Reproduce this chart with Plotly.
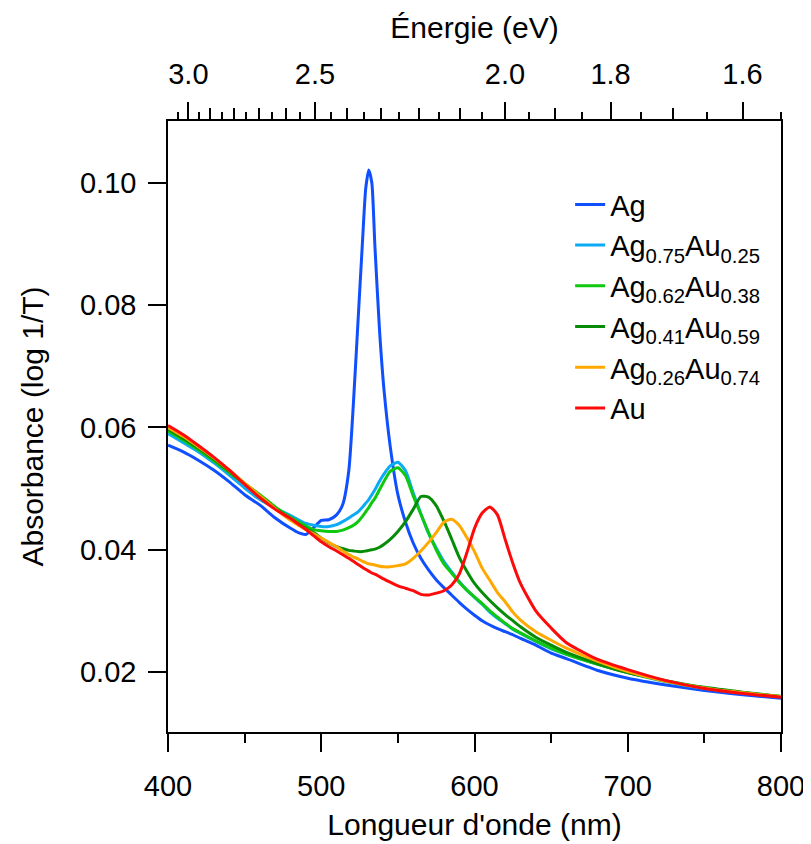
import plotly.graph_objects as go

wavelength_nm = [400, 410, 420, 430, 440, 450, 460, 470, 480, 485, 490, 495, 500, 505, 510,
                 514, 518, 521, 524, 527, 529, 531, 533, 535, 538, 541, 545, 550, 555, 560,
                 565, 570, 575, 580, 585, 590, 595, 600, 605, 610, 615, 620, 625, 630, 640,
                 650, 660, 680, 700, 725, 750, 775, 800]

abs_ag = [0.0571, 0.0560, 0.0546, 0.0530, 0.0511, 0.0490, 0.0473, 0.0452, 0.0435, 0.0428, 0.0425, 0.0436, 0.0448, 0.0449, 0.0457,
          0.0474, 0.0530, 0.0640, 0.0774, 0.0908, 0.0990, 0.1021, 0.1000, 0.0897, 0.0760, 0.0660, 0.0569, 0.0490, 0.0445, 0.0411,
          0.0386, 0.0367, 0.0351, 0.0338, 0.0326, 0.0314, 0.0303, 0.0293, 0.0284, 0.0277, 0.0271, 0.0266, 0.0261, 0.0255, 0.0244,
          0.0231, 0.0222, 0.0203, 0.0190, 0.0179, 0.0170, 0.0163, 0.0157]

abs_ag75 = [0.0590, 0.0575, 0.0560, 0.0542, 0.0522, 0.0501, 0.0482, 0.0468, 0.0456, 0.0449, 0.0443, 0.0440, 0.0438, 0.0438, 0.0441,
            0.0446, 0.0452, 0.0457, 0.0462, 0.0470, 0.0476, 0.0482, 0.0490, 0.0498, 0.0512, 0.0524, 0.0537, 0.0543, 0.0529, 0.0493,
            0.0459, 0.0427, 0.0403, 0.0381, 0.0364, 0.0348, 0.0334, 0.0322, 0.0311, 0.0298, 0.0288, 0.0279, 0.0270, 0.0263, 0.0250,
            0.0238, 0.0229, 0.0213, 0.0199, 0.0184, 0.0173, 0.0166, 0.0160]

abs_ag62 = [0.0594, 0.0579, 0.0563, 0.0545, 0.0526, 0.0508, 0.0490, 0.0470, 0.0453, 0.0446, 0.0439, 0.0433, 0.0431, 0.0430, 0.0430,
            0.0432, 0.0436, 0.0440, 0.0446, 0.0455, 0.0462, 0.0469, 0.0477, 0.0484, 0.0498, 0.0512, 0.0528, 0.0534, 0.0521, 0.0488,
            0.0458, 0.0428, 0.0400, 0.0377, 0.0362, 0.0347, 0.0334, 0.0323, 0.0312, 0.0300, 0.0290, 0.0280, 0.0271, 0.0264, 0.0251,
            0.0239, 0.0229, 0.0213, 0.0199, 0.0185, 0.0174, 0.0166, 0.0160]

abs_ag41 = [0.0597, 0.0582, 0.0566, 0.0548, 0.0528, 0.0508, 0.0488, 0.0468, 0.0450, 0.0442, 0.0435, 0.0428, 0.0419, 0.0411, 0.0405,
            0.0402, 0.0399, 0.0398, 0.0397, 0.0397, 0.0398, 0.0399, 0.0400, 0.0401, 0.0404, 0.0409, 0.0417, 0.0430, 0.0446, 0.0466,
            0.0487, 0.0486, 0.0472, 0.0447, 0.0418, 0.0388, 0.0365, 0.0345, 0.0330, 0.0317, 0.0305, 0.0294, 0.0284, 0.0274, 0.0257,
            0.0244, 0.0232, 0.0214, 0.0199, 0.0186, 0.0175, 0.0167, 0.0160]

abs_ag26 = [0.0600, 0.0585, 0.0568, 0.0550, 0.0530, 0.0509, 0.0488, 0.0467, 0.0448, 0.0440, 0.0433, 0.0426, 0.0419, 0.0412, 0.0405,
            0.0398, 0.0392, 0.0388, 0.0385, 0.0381, 0.0379, 0.0377, 0.0376, 0.0375, 0.0373, 0.0372, 0.0372, 0.0374, 0.0377, 0.0386,
            0.0398, 0.0412, 0.0428, 0.0445, 0.0450, 0.0440, 0.0420, 0.0397, 0.0370, 0.0350, 0.0330, 0.0315, 0.0298, 0.0285, 0.0266,
            0.0252, 0.0239, 0.0218, 0.0201, 0.0185, 0.0174, 0.0166, 0.0160]

abs_au = [0.0603, 0.0588, 0.0570, 0.0551, 0.0530, 0.0507, 0.0485, 0.0466, 0.0451, 0.0442, 0.0433, 0.0423, 0.0413, 0.0405, 0.0398,
          0.0392, 0.0386, 0.0381, 0.0376, 0.0371, 0.0368, 0.0365, 0.0362, 0.0360, 0.0356, 0.0352, 0.0347, 0.0341, 0.0337, 0.0333,
          0.0327, 0.0326, 0.0329, 0.0333, 0.0342, 0.0360, 0.0395, 0.0435, 0.0460, 0.0470, 0.0457, 0.0417, 0.0378, 0.0345, 0.0300,
          0.0272, 0.0248, 0.0221, 0.0204, 0.0186, 0.0173, 0.0165, 0.0159]

series_names = ["Ag",
                "Ag<sub>0.75</sub>Au<sub>0.25</sub>",
                "Ag<sub>0.62</sub>Au<sub>0.38</sub>",
                "Ag<sub>0.41</sub>Au<sub>0.59</sub>",
                "Ag<sub>0.26</sub>Au<sub>0.74</sub>",
                "Au"]
series_colors = ["#0F4FFF", "#0AAAF5", "#10C810", "#078C07", "#FFA800", "#FF0A0A"]
series_values = [abs_ag, abs_ag75, abs_ag62, abs_ag41, abs_ag26, abs_au]

# Top energy axis (eV)
energy_major = [3.0, 2.5, 2.0, 1.8, 1.6]
energy_medium = [2.9, 2.8, 2.7, 2.6, 2.4, 2.3, 2.2, 2.1, 1.9, 1.7]
energy_minor = [3.05, 2.95, 2.85, 2.75, 2.65, 2.55, 2.45, 2.35, 2.25, 2.15, 2.05, 1.95, 1.85, 1.75, 1.65, 1.55]
HC = 1239.84  # eV*nm

FONT = "Liberation Sans, Arial, Helvetica, sans-serif"

fig = go.Figure()
for name, color, vals in zip(series_names, series_colors, series_values):
    fig.add_trace(go.Scatter(x=wavelength_nm, y=vals, mode="lines", name=name,
                             line=dict(color=color, width=3, shape="spline", smoothing=0.6)))

# dummy traces to instantiate the top axes
fig.add_trace(go.Scatter(x=[400, 800], y=[None, None], xaxis="x2", showlegend=False, hoverinfo="skip"))
fig.add_trace(go.Scatter(x=[400, 800], y=[None, None], xaxis="x3", showlegend=False, hoverinfo="skip"))

tickfont = dict(family=FONT, size=29, color="black")
titlefont = dict(family=FONT, size=30, color="black")

fig.update_layout(
    width=803, height=836,
    margin=dict(l=160, r=30, t=113, b=112),
    paper_bgcolor="white", plot_bgcolor="white",
    font=dict(family=FONT, color="black"),
    xaxis=dict(range=[400, 800], tickvals=[400, 500, 600, 700, 800], ticks="outside", ticklen=18,
               tickwidth=1.5, tickcolor="black", showline=True, linecolor="black", linewidth=1.5,
               mirror=True, showgrid=False, zeroline=False, tickfont=tickfont, automargin=False,
               ticklabelstandoff=9,
               minor=dict(tickvals=[450, 550, 650, 750], ticks="outside", ticklen=9, tickwidth=1.5,
                          tickcolor="black", showgrid=False),
               title=dict(text="Longueur d'onde (nm)", font=titlefont, standoff=13)),
    xaxis2=dict(overlaying="x", side="top", anchor="y", range=[400, 800], automargin=False,
                tickvals=[HC / e for e in energy_major], ticktext=[f"{e:.1f}" for e in energy_major],
                ticks="outside", ticklen=18, tickwidth=1.5, tickcolor="black", showline=False,
                showgrid=False, zeroline=False, tickfont=tickfont, ticklabelstandoff=6,
                minor=dict(tickvals=[HC / e for e in energy_minor], ticks="outside", ticklen=8,
                           tickwidth=1.5, tickcolor="black", showgrid=False),
                title=dict(text="Énergie (eV)", font=titlefont, standoff=10)),
    xaxis3=dict(overlaying="x", side="top", anchor="y", range=[400, 800], automargin=False,
                tickvals=[HC / e for e in energy_medium], ticks="outside", ticklen=12, tickwidth=1.5,
                tickcolor="black", showticklabels=False, showline=False, showgrid=False, zeroline=False),
    yaxis=dict(range=[0.0102, 0.1101], tickvals=[0.02, 0.04, 0.06, 0.08, 0.10], tickformat=".2f",
               ticks="outside", ticklen=18, tickwidth=1.5, tickcolor="black", showline=True,
               linecolor="black", linewidth=1.5, mirror=True, showgrid=False, zeroline=False,
               tickfont=tickfont, ticklabelstandoff=6, automargin=False,
               title=dict(text="Absorbance (log 1/T)", font=titlefont, standoff=27)),
    legend=dict(x=0.656, y=0.905, xanchor="left", yanchor="top", bgcolor="rgba(0,0,0,0)",
                font=dict(family=FONT, size=29, color="black"), tracegroupgap=0),
    showlegend=True,
)

fig.write_html("out.html")
